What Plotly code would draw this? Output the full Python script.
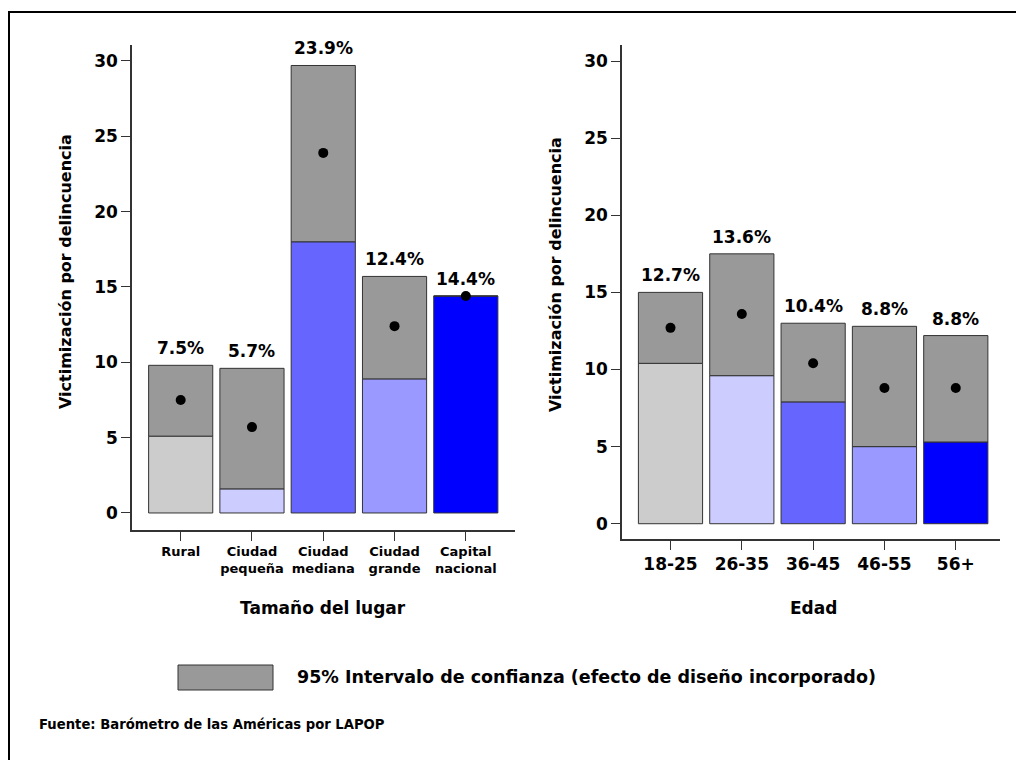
import plotly.graph_objects as go

# Panel izquierdo: tamaño del lugar
lugares = ["Rural", "Ciudad<br>pequeña", "Ciudad<br>mediana", "Ciudad<br>grande", "Capital<br>nacional"]
lugar_media = [7.5, 5.7, 23.9, 12.4, 14.4]
lugar_inf = [5.1, 1.6, 18.0, 8.9, 14.4]
lugar_sup = [9.8, 9.6, 29.7, 15.7, 14.4]

# Panel derecho: edad
edades = ["18-25", "26-35", "36-45", "46-55", "56+"]
edad_media = [12.7, 13.6, 10.4, 8.8, 8.8]
edad_inf = [10.4, 9.6, 7.9, 5.0, 5.3]
edad_sup = [15.0, 17.5, 13.0, 12.8, 12.2]

colores = ["#CCCCCC", "#CCCCFF", "#6666FF", "#9999FF", "#0000FF"]
gris = "#999999"
fuente = "DejaVu Sans"

# la página deja 8px de margen, la figura ocupa el resto
W, H = 1016, 752


def px(x):
    return (x - 8) / W


def py(y):
    return 1 - (y - 8) / H


def letra(size):
    return dict(family=fuente, size=size, color="black", weight="bold")


fig = go.Figure()


def panel(cats, media, inf, sup, xa, ya):
    # barra coloreada hasta el límite inferior del intervalo
    fig.add_trace(go.Bar(x=cats, y=inf, base=0, width=0.9, marker_color=colores,
                         marker_line=dict(color="#333333", width=1),
                         xaxis=xa, yaxis=ya, showlegend=False, hoverinfo="skip"))
    # intervalo de confianza en gris
    alto = [s - i for s, i in zip(sup, inf)]
    fig.add_trace(go.Bar(x=cats, y=alto, base=inf, width=0.9, marker_color=gris,
                         marker_line=dict(color="#333333", width=1),
                         xaxis=xa, yaxis=ya, showlegend=False, hoverinfo="skip"))
    # punto en la media
    fig.add_trace(go.Scatter(x=cats, y=media, mode="markers",
                             marker=dict(color="black", size=10),
                             xaxis=xa, yaxis=ya, showlegend=False))
    # etiquetas sobre el intervalo
    for c, m, s in zip(cats, media, sup):
        fig.add_annotation(x=c, y=s, xref=xa, yref=ya, text=f"{m:.1f}%",
                           showarrow=False, yanchor="middle", yshift=17,
                           font=letra(17))


panel(lugares, lugar_media, lugar_inf, lugar_sup, "x", "y")
panel(edades, edad_media, edad_inf, edad_sup, "x2", "y2")

eje_y = dict(tickvals=[0, 5, 10, 15, 20, 25, 30], ticks="outside", ticklen=9,
             tickcolor="#333333", showline=True, linecolor="#333333", linewidth=1.5,
             showgrid=False, zeroline=False, tickfont=letra(17))
eje_x = dict(ticks="outside", ticklen=9, tickcolor="#333333", showline=True,
             linecolor="#333333", linewidth=1.5, showgrid=False)

fig.update_layout(
    width=W, height=H,
    margin=dict(l=0, r=0, t=0, b=0),
    paper_bgcolor="white", plot_bgcolor="white",
    barmode="overlay",
    font=dict(family=fuente, color="black"),
    xaxis=dict(eje_x, domain=[px(132), px(515)], range=[-0.683, 4.69], tickfont=letra(13)),
    yaxis=dict(eje_y, domain=[py(530), py(45)], range=[-1.13, 31.06]),
    xaxis2=dict(eje_x, domain=[px(622), px(1000)], range=[-0.68, 4.62], anchor="y2",
                tickfont=letra(17)),
    yaxis2=dict(eje_y, domain=[py(539), py(45)], range=[-0.99, 31.04], anchor="x2"),
)

# títulos de ejes
anots = [
    (65, 272, "Victimización por delincuencia", -90, 16),
    (555, 275, "Victimización por delincuencia", -90, 16),
    (323, 608, "Tamaño del lugar", 0, 17),
    (813, 608, "Edad", 0, 17),
]
for x, y, t, ang, s in anots:
    fig.add_annotation(x=px(x), y=py(y), xref="paper", yref="paper", text=t,
                       xanchor="center", yanchor="middle",
                       textangle=ang, showarrow=False, font=letra(s))

# leyenda y fuente
fig.add_shape(type="rect", xref="paper", yref="paper",
              x0=px(178), x1=px(273), y0=py(690), y1=py(665),
              fillcolor=gris, line=dict(color="#333333", width=1))
fig.add_annotation(x=px(295), y=py(677), xref="paper", yref="paper",
                   xanchor="left", yanchor="middle",
                   text="95% Intervalo de confianza (efecto de diseño incorporado)",
                   showarrow=False, font=letra(17.5))
fig.add_annotation(x=px(37), y=py(724), xref="paper", yref="paper",
                   xanchor="left", yanchor="middle",
                   text="Fuente: Barómetro de las Américas por LAPOP",
                   showarrow=False, font=letra(13.2))

# marco exterior
fig.add_shape(type="rect", xref="paper", yref="paper",
              x0=px(9), x1=1.02, y0=-0.02, y1=py(12),
              line=dict(color="black", width=2), fillcolor="rgba(0,0,0,0)")

fig.write_html("out.html")
